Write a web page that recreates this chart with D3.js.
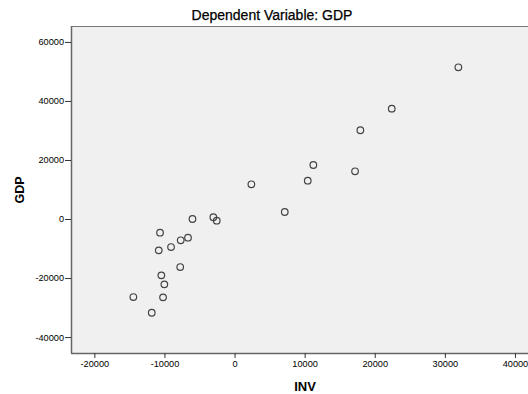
<!DOCTYPE html>
<html>
<head>
<meta charset="utf-8">
<script src="https://cdn.jsdelivr.net/npm/d3@7"></script>
<style>
  html, body { margin: 0; padding: 0; background: #fff; }
  svg { display: block; }
  text { font-family: "Liberation Sans", Arial, sans-serif; }
</style>
</head>
<body>
<svg id="chart" width="528" height="394"></svg>
<script>
// Data: INV (x) vs GDP (y)
const inv = [31926, 22425, 17946, 11241, 17190, 10442, 2400, 7161,
             -6000, -3024, -2539, -10628, -6640, -7680, -9058, -10813,
             -7750, -10442, -10014, -14436, -10200, -11812];
const gdp = [51400, 37390, 30068, 18305, 16169, 12983, 11763, 2373,
             0, 600, -576, -4644, -6339, -7220, -9492, -10610,
             -16271, -19085, -22136, -26441, -26542, -31763];
const xTicks = [-20000, -10000, 0, 10000, 20000, 30000, 40000];
const yTicks = [-40000, -20000, 0, 20000, 40000, 60000];
const titleText = "Dependent Variable: GDP";
const xLabel = "INV";
const yLabel = "GDP";

const svg = d3.select("#chart");
const pLeft = 71, pRight = 550, pTop = 26, pBottom = 353;

const x = d3.scaleLinear().domain([-23330, 45000]).range([pLeft, pRight]);
const y = d3.scaleLinear().domain([-45400, 65400]).range([pBottom, pTop]);

// plot background
svg.append("rect")
  .attr("x", pLeft).attr("y", pTop)
  .attr("width", pRight - pLeft).attr("height", pBottom - pTop)
  .attr("fill", "#f0f0f0");

// top frame line
svg.append("line")
  .attr("x1", pLeft).attr("x2", pRight)
  .attr("y1", pTop + 0.5).attr("y2", pTop + 0.5)
  .attr("stroke", "#777").attr("stroke-width", 1);

// axes
const xAxis = d3.axisBottom(x).tickValues(xTicks).tickSize(5).tickPadding(2);
const yAxis = d3.axisLeft(y).tickValues(yTicks).tickSize(6).tickPadding(1);

const gx = svg.append("g").attr("transform", `translate(0,${pBottom})`).call(xAxis);
const gy = svg.append("g").attr("transform", `translate(${pLeft},0)`).call(yAxis);

[gx, gy].forEach(g => {
  g.select(".domain").attr("stroke", "#666").attr("stroke-width", 1.5);
  g.selectAll(".tick line").attr("stroke", "#333").attr("stroke-width", 1);
  g.selectAll(".tick text")
    .attr("fill", "#000")
    .style("font-size", "9.2px")
    .style("font-family", '"Liberation Sans", Arial, sans-serif')
    .text(d => d < 0 ? "-" + Math.abs(d) : String(d));
});
gx.select(".domain").attr("d", `M${pLeft},0.5H${pRight}`);
gy.select(".domain").attr("d", `M0.5,${pTop}V${pBottom}`);

// points
svg.append("g").selectAll("circle")
  .data(inv.map((v, i) => [v, gdp[i]]))
  .join("circle")
  .attr("cx", d => x(d[0]))
  .attr("cy", d => y(d[1]))
  .attr("r", 3.3)
  .attr("fill", "none")
  .attr("stroke", "#444")
  .attr("stroke-width", 1.2);

// title
svg.append("text")
  .attr("x", 272).attr("y", 20)
  .attr("text-anchor", "middle")
  .attr("fill", "#000")
  .attr("stroke", "#000")
  .attr("stroke-width", 0.25)
  .style("font-size", "14px")
  .text(titleText);

// x label
svg.append("text")
  .attr("x", 305).attr("y", 391)
  .attr("text-anchor", "middle")
  .attr("fill", "#000")
  .style("font-size", "13px")
  .style("font-weight", "bold")
  .text(xLabel);

// y label
svg.append("text")
  .attr("transform", "translate(24,190) rotate(-90)")
  .attr("text-anchor", "middle")
  .attr("fill", "#000")
  .style("font-size", "12.5px")
  .style("font-weight", "bold")
  .text(yLabel);
</script>
</body>
</html>
